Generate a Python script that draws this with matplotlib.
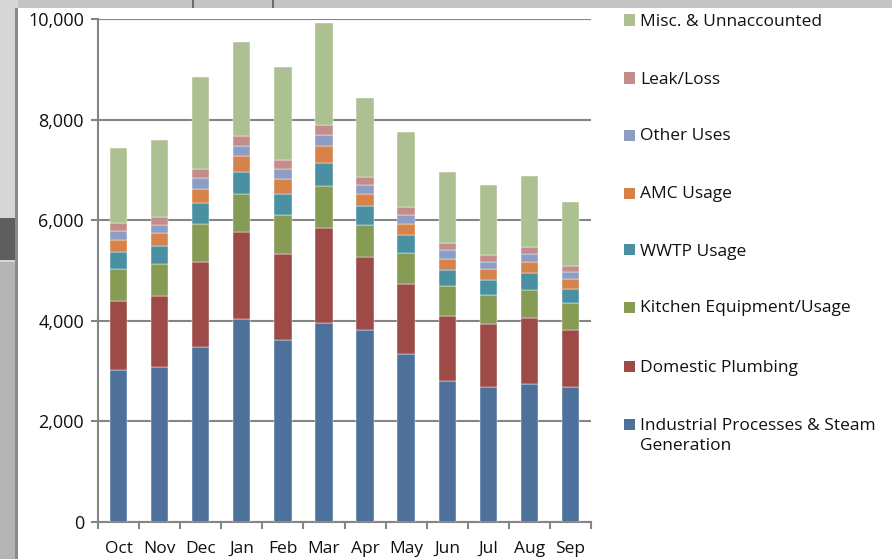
import numpy as np
import matplotlib.pyplot as plt
from matplotlib.patches import Rectangle

plt.rcParams['font.family'] = ['Open Sans', 'DejaVu Sans']

months = ['Oct', 'Nov', 'Dec', 'Jan', 'Feb', 'Mar', 'Apr', 'May', 'Jun', 'Jul', 'Aug', 'Sep']

industrial = [3010, 3070, 3475, 4025, 3615, 3945, 3815, 3335, 2795, 2675, 2745, 2675]
domestic = [1385, 1420, 1690, 1730, 1715, 1890, 1445, 1385, 1305, 1255, 1300, 1145]
kitchen = [625, 630, 750, 770, 765, 840, 640, 625, 590, 575, 570, 525]
wwtp = [345, 370, 430, 440, 430, 465, 380, 350, 325, 310, 325, 290]
amc = [245, 245, 280, 300, 285, 330, 245, 230, 220, 215, 225, 185]
other = [165, 160, 220, 205, 210, 225, 175, 175, 160, 145, 155, 145]
leak = [160, 160, 175, 200, 180, 200, 160, 155, 140, 140, 145, 125]
misc = [1490, 1540, 1835, 1865, 1855, 2035, 1565, 1505, 1420, 1385, 1405, 1260]

series = [
    ('Industrial Processes & Steam\nGeneration', industrial, '#4E719C'),
    ('Domestic Plumbing', domestic, '#9E4B48'),
    ('Kitchen Equipment/Usage', kitchen, '#869B54'),
    ('WWTP Usage', wwtp, '#4A90A3'),
    ('AMC Usage', amc, '#D78248'),
    ('Other Uses', other, '#8C9EC4'),
    ('Leak/Loss', leak, '#C58C8C'),
    ('Misc. & Unnaccounted', misc, '#ADC091'),
]

W, H = 892, 559
fig = plt.figure(figsize=(W / 100, H / 100), dpi=100)
fig.patch.set_facecolor('white')

# window frame around the chart
fig.patches.append(Rectangle((0, 1 - 8 / H), 1, 8 / H, transform=fig.transFigure,
                             facecolor='#c4c4c4', edgecolor='none', zorder=0))
for x0, x1 in [(192, 194), (272, 274)]:
    fig.patches.append(Rectangle((x0 / W, 1 - 8 / H), (x1 - x0) / W, 8 / H,
                                 transform=fig.transFigure, facecolor='#6a6a6a',
                                 edgecolor='none', zorder=0))
fig.patches.append(Rectangle((0, 0), 18 / W, 1, transform=fig.transFigure,
                             facecolor='#d6d6d6', edgecolor='none', zorder=0))
fig.patches.append(Rectangle((0, 0), 18 / W, (H - 262) / H, transform=fig.transFigure,
                             facecolor='#b4b4b4', edgecolor='none', zorder=0))
fig.patches.append(Rectangle((0, (H - 260) / H), 18 / W, 42 / H, transform=fig.transFigure,
                             facecolor='#5e5e5e', edgecolor='none', zorder=0))
fig.patches.append(Rectangle((15 / W, 0), 3 / W, 1 - 8 / H, transform=fig.transFigure,
                             facecolor='#8a8a8a', edgecolor='none', zorder=0))

ax = fig.add_axes([98 / W, 1 - 521.7 / H, 493 / W, (521.7 - 19) / H])
ax.set_facecolor('none')

x = np.arange(len(months))
bottom = np.zeros(len(months))
for label, vals, color in series:
    ax.bar(x, vals, width=0.42, bottom=bottom, color=color,
           edgecolor='white', linewidth=0.3, zorder=3)
    bottom += np.array(vals)

ax.set_xlim(-0.5, len(months) - 0.5)
ax.set_ylim(0, 10000)
ax.set_yticks(np.arange(0, 10001, 2000))
ax.set_yticklabels(['{:,}'.format(v) for v in range(0, 10001, 2000)])
ax.yaxis.grid(True, color='#858585', linewidth=1.5, zorder=0)

ax.set_xticks(x)
ax.set_xticklabels(months)
ax.set_xticks(np.arange(-0.5, len(months)), minor=True)
ax.tick_params(axis='x', which='major', length=0, pad=14, labelsize=12.5, labelcolor='#111111')
ax.tick_params(axis='x', which='minor', length=5, width=1.5, color='#858585')
ax.tick_params(axis='y', length=5, width=1.5, color='#858585', pad=5,
               labelsize=13, labelcolor='#111111')

for side in ['top', 'right']:
    ax.spines[side].set_visible(False)
for side in ['left', 'bottom']:
    ax.spines[side].set_color('#858585')
    ax.spines[side].set_linewidth(1.5)

# legend on the right, topmost series first
rows = [20, 78, 135, 193, 250, 307, 366, 424]
for (label, vals, color), yc in zip(series[::-1], rows):
    fig.patches.append(Rectangle((624 / W, 1 - (yc + 5.5) / H), 11 / W, 11 / H,
                                 transform=fig.transFigure, facecolor=color,
                                 edgecolor='none'))
    fig.text(640 / W, 1 - (yc - 6.5) / H, label, fontsize=12.5, color='#111111',
             va='top', ha='left', linespacing=1.35)

fig.savefig('out.png', dpi=100)
